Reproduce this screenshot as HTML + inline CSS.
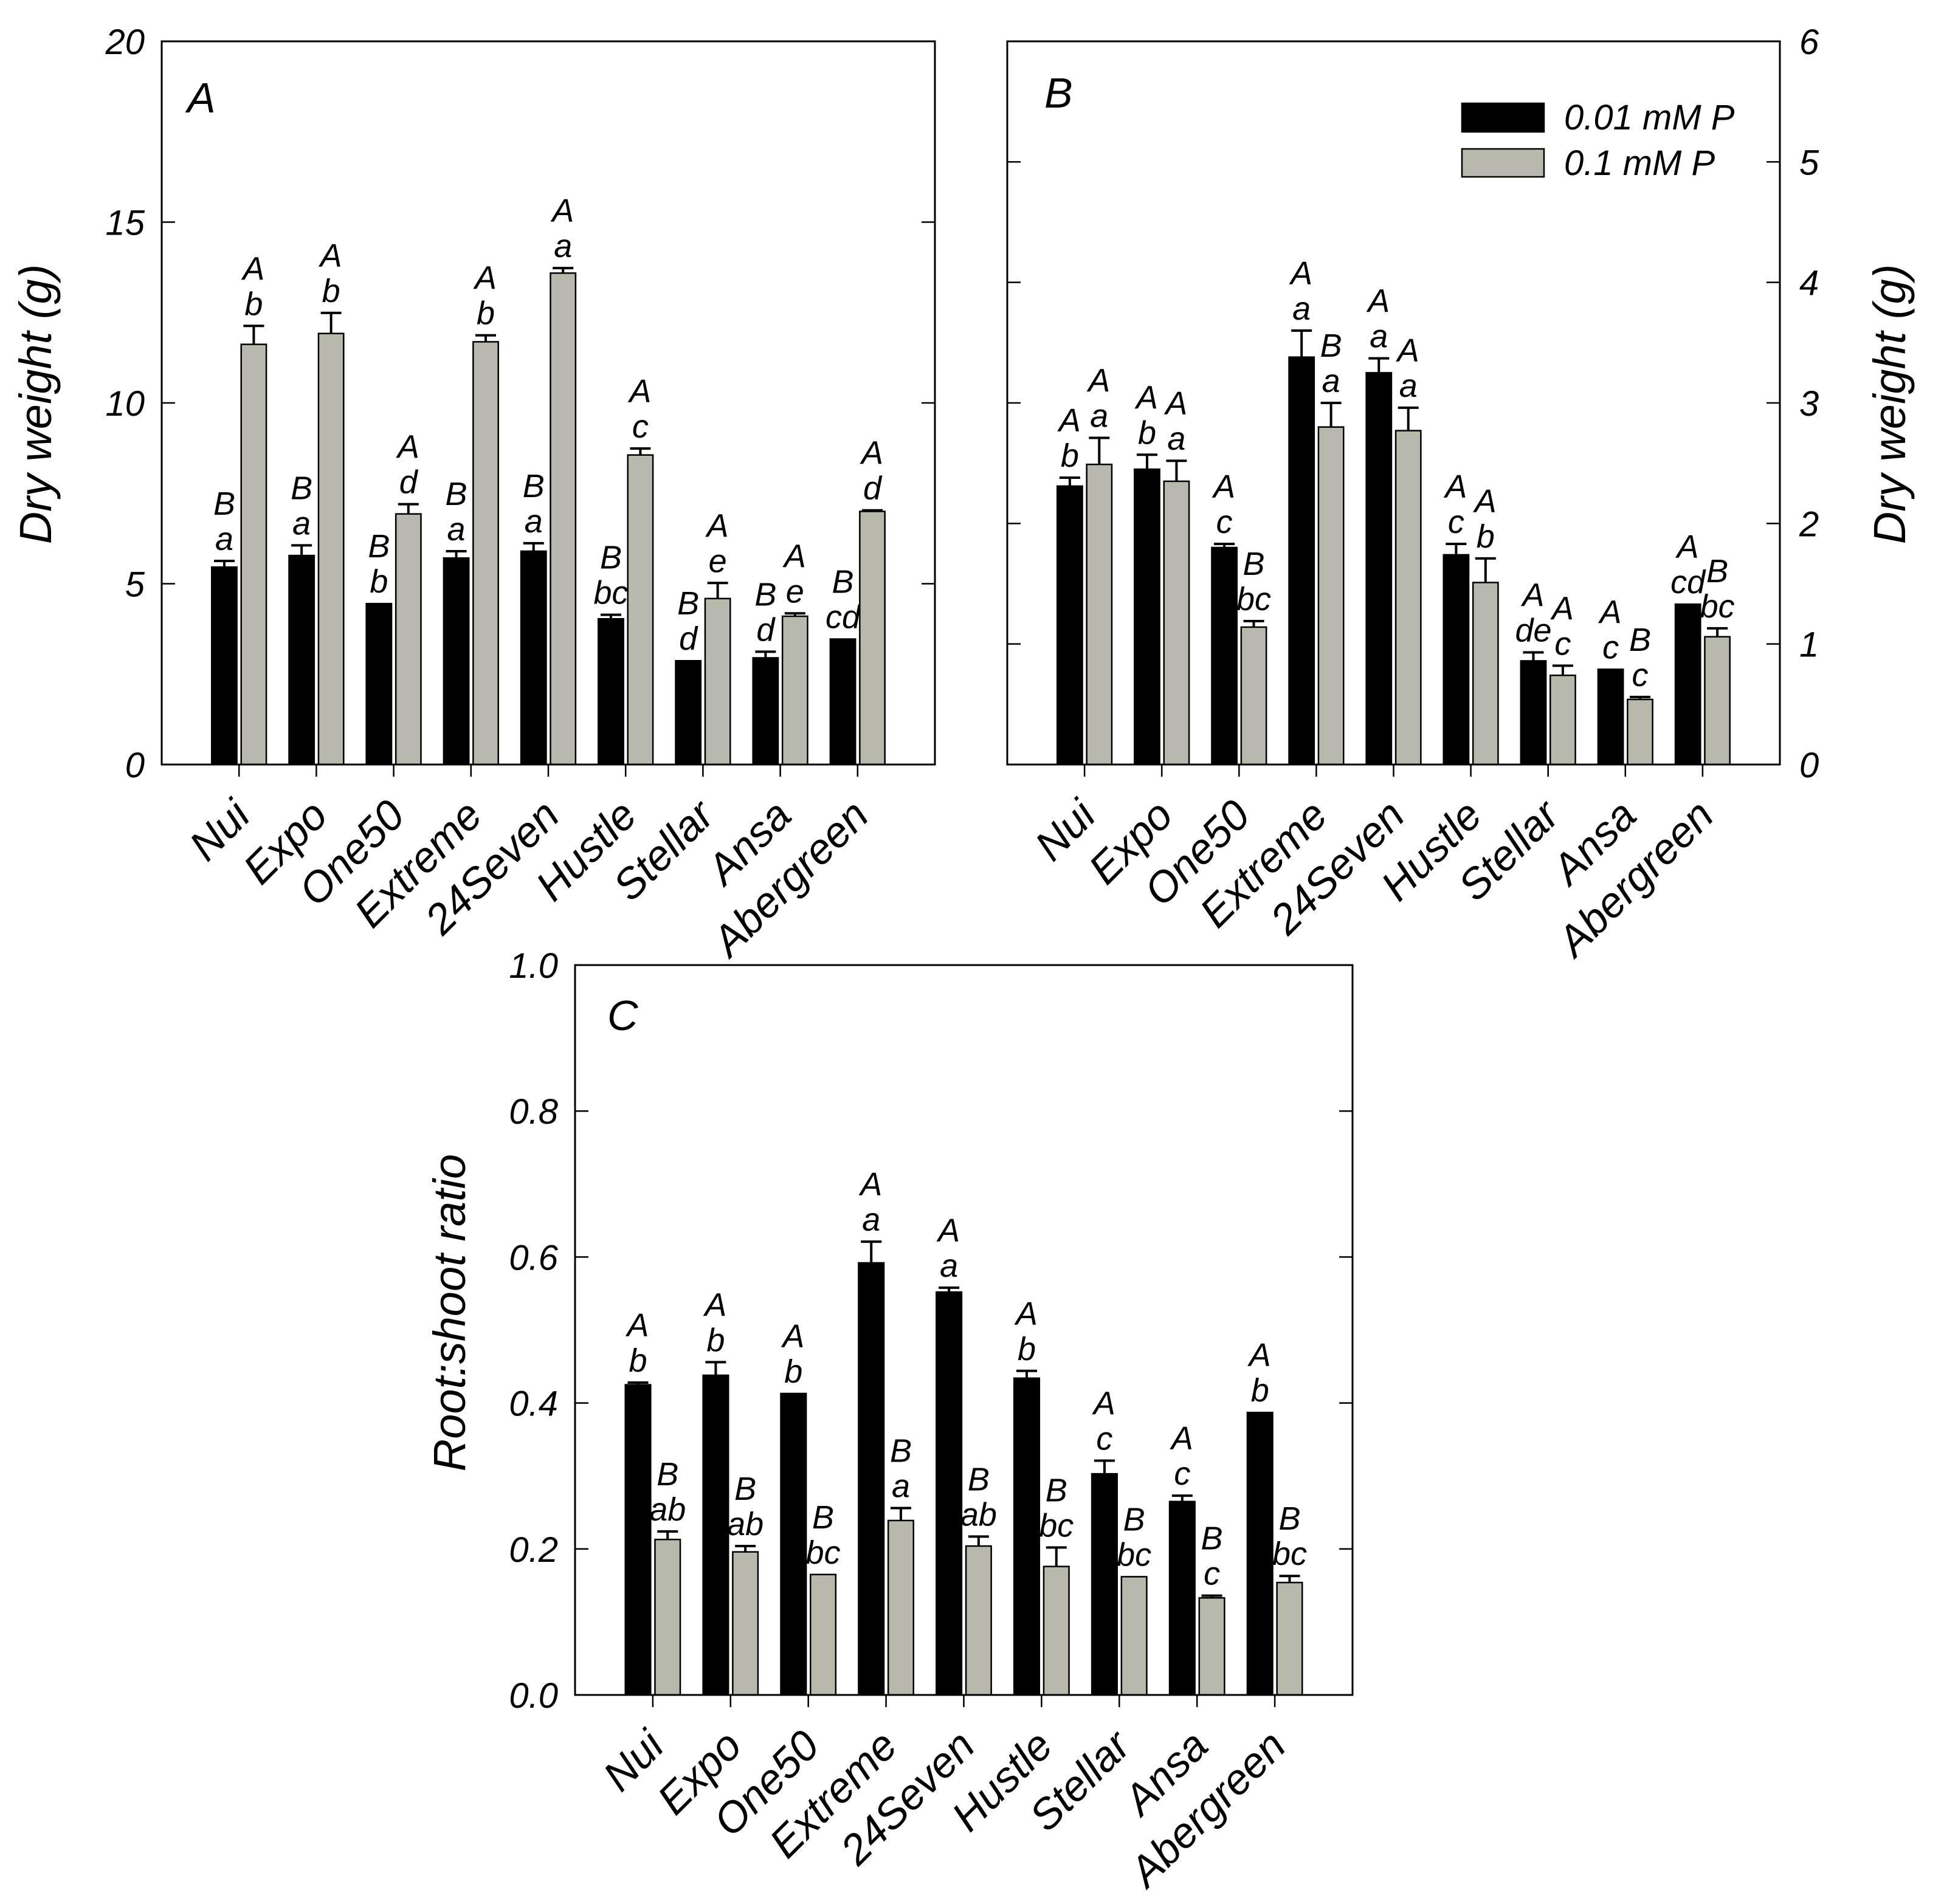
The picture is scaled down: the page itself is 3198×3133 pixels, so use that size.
<!DOCTYPE html>
<html><head><meta charset="utf-8"><style>
html,body{margin:0;padding:0;background:#fff;}
svg text{font-family:"Liberation Sans",Arial,sans-serif;font-style:italic;fill:#000;}
</style></head><body>
<svg id="fig" width="3198" height="3128" viewBox="0 0 3198 3128" xmlns="http://www.w3.org/2000/svg"></svg>
<script>
const categories = ["Nui","Expo","One50","Extreme","24Seven","Hustle","Stellar","Ansa","Abergreen"];
// Panel A: shoot dry weight (g)
const aLow = [5.46,5.78,4.45,5.71,5.9,4.03,2.87,2.95,3.47];
const aLowErr = [0.17,0.28,0,0.19,0.22,0.11,0,0.17,0];
const aHigh = [11.62,11.92,6.93,11.69,13.59,8.56,4.59,4.1,7.0];
const aHighErr = [0.51,0.57,0.27,0.18,0.14,0.18,0.43,0.08,0.03];
const aLowUp = ["B","B","B","B","B","B","B","B","B"];
const aLowLo = ["a","a","b","a","a","bc","d","d","cd"];
const aHighUp = ["A","A","A","A","A","A","A","A","A"];
const aHighLo = ["b","b","d","b","a","c","e","e","d"];
const aTicks = [0,5,10,15,20];
// Panel B: root dry weight (g)
const bLow = [2.31,2.45,1.8,3.38,3.25,1.74,0.86,0.79,1.33];
const bLowErr = [0.07,0.12,0.03,0.22,0.12,0.09,0.07,0,0];
const bHigh = [2.49,2.35,1.14,2.8,2.77,1.51,0.74,0.54,1.06];
const bHighErr = [0.22,0.17,0.05,0.2,0.19,0.2,0.08,0.02,0.07];
const bLowUp = ["A","A","A","A","A","A","A","A","A"];
const bLowLo = ["b","b","c","a","a","c","de","c","cd"];
const bHighUp = ["A","A","B","B","A","A","A","B","B"];
const bHighLo = ["a","a","bc","a","a","b","c","c","bc"];
const bTicks = [0,1,2,3,4,5,6];
// Panel C: root:shoot ratio
const cLow = [0.425,0.438,0.413,0.592,0.552,0.434,0.303,0.265,0.387];
const cLowErr = [0.003,0.018,0,0.029,0.006,0.01,0.018,0.008,0];
const cHigh = [0.213,0.196,0.165,0.239,0.204,0.176,0.162,0.133,0.154];
const cHighErr = [0.011,0.008,0,0.017,0.013,0.026,0,0.003,0.009];
const cLowUp = ["A","A","A","A","A","A","A","A","A"];
const cLowLo = ["b","b","b","a","a","b","c","c","b"];
const cHighUp = ["B","B","B","B","B","B","B","B","B"];
const cHighLo = ["ab","ab","bc","a","ab","bc","bc","c","bc"];
const cTicks = ["0.0","0.2","0.4","0.6","0.8","1.0"];

const NS="http://www.w3.org/2000/svg";
const svg=document.getElementById('fig');
function mk(tag,attrs,parent){const e=document.createElementNS(NS,tag);for(const k in attrs)e.setAttribute(k,attrs[k]);(parent||svg).appendChild(e);return e;}

function panel(cfg){
  const g=mk('g',{});
  
  
  const L=cfg.x0,R=cfg.x1,T=cfg.y0,B=cfg.y1,W=R-L;
  const y=v=>B-(v-cfg.min)/(cfg.max-cfg.min)*(B-T);
  const xc=i=>L+W*(i+1)/10;
  const bw=W*0.0325, off=W*0.0028;
  for(let i=0;i<categories.length;i++){
    const series=[[cfg.low,cfg.lowErr,'#000',-1,cfg.lowUp,cfg.lowLo,'low'],[cfg.high,cfg.highErr,'#b8b8ac',1,cfg.highUp,cfg.highLo,'high']];
    for(const s of series){
      const v=s[0][i],er=s[1][i]||0;
      const bx=s[3]<0?xc(i)-off-bw:xc(i)+off;
      const r=mk('rect',{x:bx,y:y(v),width:bw,height:B-y(v),fill:s[2],stroke:'#000','stroke-width':2.5},g);
      
      
      const cx=bx+bw/2;
      let top=y(v);
      if(er>0){
        top=y(v+er);
        const e=mk('path',{d:`M${cx},${y(v)}V${top}M${cx-17},${top}H${cx+17}`,stroke:'#000','stroke-width':4,fill:'none'},g);
        
        
      }
      const t1=mk('text',{x:cx,y:top-18,'font-size':54,'text-anchor':'middle'},g);
      t1.textContent=s[5][i];
      
      
      const t2=mk('text',{x:cx,y:top-76,'font-size':54,'text-anchor':'middle'},g);
      t2.textContent=s[4][i];
      
      
    }
    const tk=mk('line',{x1:xc(i),y1:B,x2:xc(i),y2:B+20,stroke:'#000','stroke-width':2.5},g);
    
    
    const lx=xc(i)+22,ly=B+88;
    const lt=mk('text',{x:lx,y:ly,'font-size':70,'text-anchor':'end',transform:`rotate(-45 ${lx} ${ly})`},g);
    lt.textContent=categories[i];
    
    
  }
  const fr=mk('rect',{x:L,y:T,width:W,height:B-T,fill:'none',stroke:'#000','stroke-width':3},g);
  
  
  for(const tv of cfg.ticks){
    const v=parseFloat(tv),yy=y(v);
    if(v>cfg.min&&v<cfg.max){
      const t=mk('line',{x1:L,y1:yy,x2:L+22,y2:yy,stroke:'#000','stroke-width':2.5},g);
      
      
      const t2=mk('line',{x1:R,y1:yy,x2:R-22,y2:yy,stroke:'#000','stroke-width':2.5},g);
      
      
    }
    const lab=mk('text',{x:cfg.right?R+32:L-28,y:yy+21,'font-size':58,'text-anchor':cfg.right?'start':'end'},g);
    lab.textContent=tv;
    
    
  }
  const pl=mk('text',{x:cfg.letterX,y:cfg.letterY,'font-size':70},g);
  pl.textContent=cfg.letter;
  
  
  const yt=mk('text',{x:cfg.titleX,y:cfg.titleY,'font-size':74,'text-anchor':'middle',transform:`rotate(-90 ${cfg.titleX} ${cfg.titleY})`},g);
  yt.textContent=cfg.title;
  
  
}

panel({name:'panel-a',x0:266,x1:1538,y0:68,y1:1258,min:0,max:20,ticks:aTicks,low:aLow,lowErr:aLowErr,high:aHigh,highErr:aHighErr,lowUp:aLowUp,lowLo:aLowLo,highUp:aHighUp,highLo:aHighLo,letter:'A',letterX:308,letterY:185,title:'Dry weight (g)',titleX:84,titleY:665});
panel({name:'panel-b',x0:1657,x1:2928,y0:68,y1:1258,min:0,max:6,ticks:bTicks,right:true,low:bLow,lowErr:bLowErr,high:bHigh,highErr:bHighErr,lowUp:bLowUp,lowLo:bLowLo,highUp:bHighUp,highLo:bHighLo,letter:'B',letterX:1718,letterY:177,title:'Dry weight (g)',titleX:3134,titleY:665});
panel({name:'panel-c',x0:946,x1:2225,y0:1588,y1:2789,min:0,max:1,ticks:cTicks,low:cLow,lowErr:cLowErr,high:cHigh,highErr:cHighErr,lowUp:cLowUp,lowLo:cLowLo,highUp:cHighUp,highLo:cHighLo,letter:'C',letterX:999,letterY:1695,title:'Root:shoot ratio',titleX:765,titleY:2160});

const lg=mk('g',{});


const r1=mk('rect',{x:2405,y:170,width:135,height:47,fill:'#000',stroke:'#000','stroke-width':2.5},lg);


const r2=mk('rect',{x:2405,y:245,width:135,height:46,fill:'#b8b8ac',stroke:'#000','stroke-width':2.5},lg);


const l1=mk('text',{x:2573,y:213,'font-size':58},lg);
l1.textContent='0.01 mM P';


const l2=mk('text',{x:2573,y:288,'font-size':58},lg);
l2.textContent='0.1 mM P';


</script>
</body></html>
